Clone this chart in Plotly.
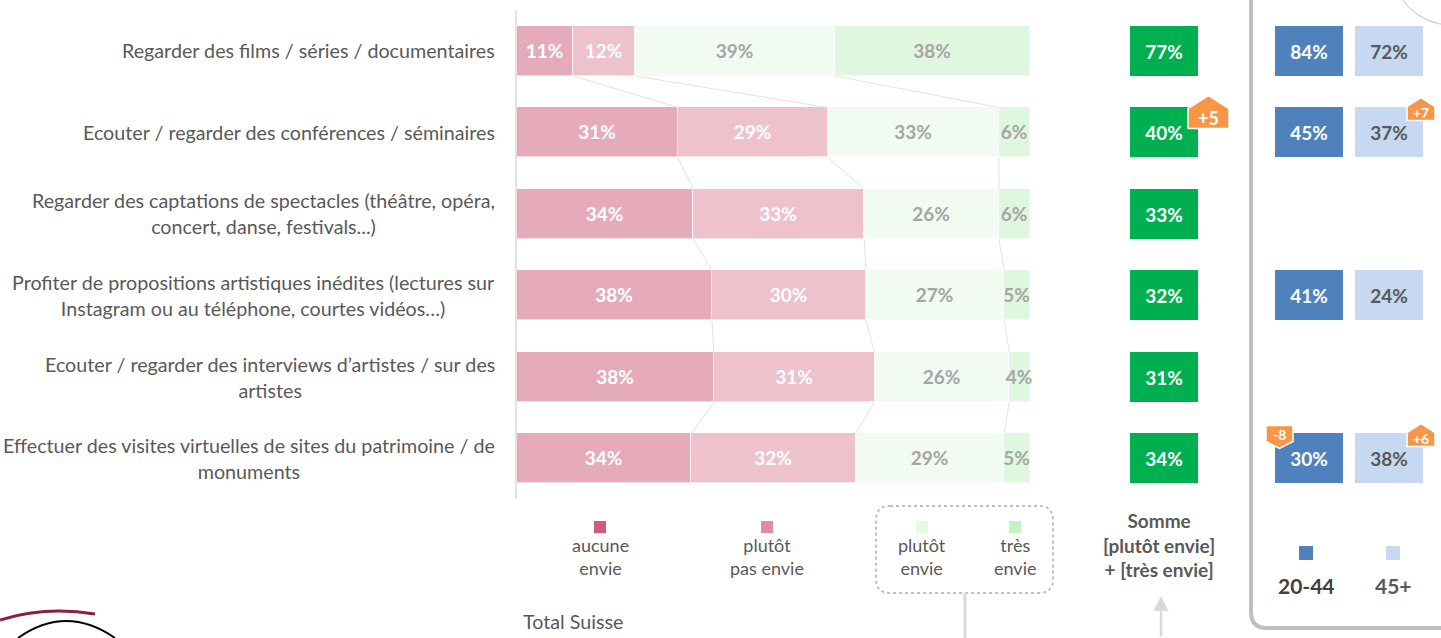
import plotly.graph_objects as go
import numpy as np

W, H = 1441, 638

categories = [
    "Regarder des films / séries / documentaires",
    "Ecouter / regarder des conférences / séminaires",
    "Regarder des captations de spectacles (théâtre, opéra,<br>concert, danse, festivals...)",
    "Profiter de propositions artistiques inédites (lectures sur<br>Instagram ou au téléphone, courtes vidéos…)",
    "Ecouter / regarder des interviews d’artistes / sur des<br>artistes",
    "Effectuer des visites virtuelles de sites du patrimoine / de<br>monuments",
]
aucune_envie = [11, 31, 34, 38, 38, 34]
plutot_pas_envie = [12, 29, 33, 30, 31, 32]
plutot_envie = [39, 33, 26, 27, 26, 29]
tres_envie = [38, 6, 6, 5, 4, 5]
somme = [77, 40, 33, 32, 31, 34]
age_20_44 = [84, 45, None, 41, None, 30]
age_45_plus = [72, 37, None, 24, None, 38]
delta_somme = [None, "+5", None, None, None, None]
delta_20_44 = [None, None, None, None, None, "-8"]
delta_45_plus = [None, "+7", None, None, None, "+6"]
series_labels = ["aucune<br>envie", "plutôt<br>pas envie", "plutôt<br>envie", "très<br>envie"]
age_labels = ["20-44", "45+"]

FONT = "Lato"
GREY_TXT = "#595959"
FS = 19.7

def px(x):
    return x / W

def py(y):
    return 1 - y / H

ROW0, STEP = 51.0, 81.5
BAR_W = 0.613
n = len(categories)
rows = list(range(n))

series = [aucune_envie, plutot_pas_envie, plutot_envie, tres_envie]
bar_colors = ["#E5ABBB", "#EDC2CD", "#F1FBF1", "#DFF7DF"]
legend_colors = ["#D05A7A", "#DE8CA0", "#E3FAE3", "#C3F3C3"]
text_colors = ["white", "white", "#A6A6A6", "#A6A6A6"]

vals = np.array(series, dtype=float)            # 4 x n
norm = vals / vals.sum(axis=0) * 100
cum = np.cumsum(norm, axis=0)

fig = go.Figure()

for k in range(4):
    fig.add_trace(go.Bar(
        y=rows, x=norm[k], orientation="h", width=BAR_W,
        marker=dict(color=bar_colors[k], line=dict(color="rgba(255,255,255,0.6)", width=1)),
        text=[f"{v}%" for v in series[k]], textposition="inside",
        insidetextanchor="middle", constraintext="none", textangle=0,
        textfont=dict(family=FONT, size=19, color=text_colors[k], weight="bold"),
        hoverinfo="skip", showlegend=False, xaxis="x", yaxis="y",
        cliponaxis=False,
    ))

# connectors between segment boundaries
lx, ly = [], []
for i in range(n - 1):
    for k in range(3):
        lx += [cum[k][i], cum[k][i + 1], None]
        ly += [i + BAR_W / 2, i + 1 - BAR_W / 2, None]
fig.add_trace(go.Scatter(x=lx, y=ly, mode="lines", line=dict(color="#E3E3E3", width=1),
                         hoverinfo="skip", showlegend=False, xaxis="x", yaxis="y"))

# value boxes
def box_trace(values, axis, color, tcolor):
    return go.Bar(
        y=rows, x=[1 if v is not None else None for v in values], orientation="h", width=BAR_W,
        marker=dict(color=color, line=dict(width=0)),
        text=[f"{v}%" if v is not None else "" for v in values], textposition="inside",
        insidetextanchor="middle", constraintext="none", textangle=0,
        textfont=dict(family=FONT, size=19, color=tcolor, weight="bold"),
        hoverinfo="skip", showlegend=False, xaxis=axis, yaxis="y",
    )

fig.add_trace(box_trace(somme, "x2", "#00B050", "white"))
fig.add_trace(box_trace(age_20_44, "x3", "#4F81BD", "white"))
fig.add_trace(box_trace(age_45_plus, "x4", "#C6D9F0", GREY_TXT))

shapes = []
annotations = []

def note(x, y, text, size=FS, color=GREY_TXT, xanchor="center", yanchor="middle", bold=False):
    annotations.append(dict(x=px(x), y=py(y), xref="paper", yref="paper",
                            text=f"<b>{text}</b>" if bold else text, showarrow=False,
                            xanchor=xanchor, yanchor=yanchor, align="center",
                            font=dict(family=FONT, size=size, color=color)))

# category labels
for i, c in enumerate(categories):
    annotations.append(dict(x=px(497), xref="paper", y=i, yref="y", text=c, showarrow=False,
                            xanchor="right", yanchor="middle", align="center",
                            font=dict(family=FONT, size=FS, color=GREY_TXT)))

# panel frame (rounded) and decorative arc
shapes.append(dict(type="path", xref="paper", yref="paper",
                   path=f"M {px(1251)} {py(-10)} L {px(1251)} {py(612)} Q {px(1251)} {py(628)} {px(1267)} {py(628)} L {px(1460)} {py(628)}",
                   line=dict(color="#BFBFBF", width=4)))
shapes.append(dict(type="circle", xref="paper", yref="paper",
                   x0=px(1451 - 59), x1=px(1451 + 59), y0=py(-34 + 59), y1=py(-34 - 59),
                   line=dict(color="#BFBFBF", width=1)))

# badges
def badge(cx_left, cx_right, y_top, y_sh, y_bot, up, txt, size):
    xm = (cx_left + cx_right) / 2
    if up:
        path = (f"M {px(cx_left)} {py(y_bot)} L {px(cx_left)} {py(y_sh)} L {px(xm)} {py(y_top)} "
                f"L {px(cx_right)} {py(y_sh)} L {px(cx_right)} {py(y_bot)} Z")
        ty = (y_sh + y_bot) / 2 - 1
    else:
        path = (f"M {px(cx_left)} {py(y_top)} L {px(cx_right)} {py(y_top)} L {px(cx_right)} {py(y_sh)} "
                f"L {px(xm)} {py(y_bot)} L {px(cx_left)} {py(y_sh)} Z")
        ty = (y_top + y_sh) / 2 + 1
    shapes.append(dict(type="path", xref="paper", yref="paper", path=path,
                       fillcolor="#F79646", line=dict(color="white", width=1.5)))
    note(xm, ty, txt, size=size, color="white", bold=True)

for i, d in enumerate(delta_somme):
    if d:
        yc = ROW0 + STEP * i
        badge(1188, 1229, yc - 37, yc - 24, yc - 4, not d.startswith("-"), d, 18)
for i, d in enumerate(delta_45_plus):
    if d:
        yc = ROW0 + STEP * i
        badge(1407, 1435, yc - 35, yc - 26, yc - 12, not d.startswith("-"), d, 14)
for i, d in enumerate(delta_20_44):
    if d:
        yc = ROW0 + STEP * i
        badge(1266, 1293, yc - 33, yc - 17, yc - 10, not d.startswith("-"), d, 14)

# legend for stacked bars
leg_x = [600, 767, 922, 1015]
for k in range(4):
    shapes.append(dict(type="rect", xref="paper", yref="paper",
                       x0=px(leg_x[k] - 6), x1=px(leg_x[k] + 6), y0=py(533), y1=py(521),
                       fillcolor=legend_colors[k], line=dict(width=0)))
    note(leg_x[k], 556, series_labels[k], size=18)

# dotted box around green legend
r = 14
x0, x1, y0, y1 = 876, 1053, 506, 593
shapes.append(dict(type="path", xref="paper", yref="paper",
                   path=(f"M {px(x0 + r)} {py(y0)} L {px(x1 - r)} {py(y0)} Q {px(x1)} {py(y0)} {px(x1)} {py(y0 + r)} "
                         f"L {px(x1)} {py(y1 - r)} Q {px(x1)} {py(y1)} {px(x1 - r)} {py(y1)} "
                         f"L {px(x0 + r)} {py(y1)} Q {px(x0)} {py(y1)} {px(x0)} {py(y1 - r)} "
                         f"L {px(x0)} {py(y0 + r)} Q {px(x0)} {py(y0)} {px(x0 + r)} {py(y0)} Z"),
                   line=dict(color="#BFBFBF", width=2, dash="dot")))
shapes.append(dict(type="line", xref="paper", yref="paper", x0=px(965), x1=px(965), y0=py(593), y1=py(645),
                   line=dict(color="#D9D9D9", width=3)))

# Somme label and arrow
annotations.append(dict(x=px(1159), y=py(545), xref="paper", yref="paper",
                        text="<b>Somme<br>[plutôt envie]<br>+ [très envie]</b>", showarrow=False,
                        xanchor="center", yanchor="middle", align="center",
                        font=dict(family=FONT, size=19, color=GREY_TXT)))
annotations.append(dict(x=px(1161), y=py(596), xref="paper", yref="paper", ax=0, ay=50,
                        axref="pixel", ayref="pixel", text="", showarrow=True, arrowhead=2,
                        arrowsize=1.2, arrowwidth=2.5, arrowcolor="#D9D9D9"))

# age legend
age_x = [1306, 1393]
age_cols = ["#4F81BD", "#C6D9F0"]
for k in range(2):
    shapes.append(dict(type="rect", xref="paper", yref="paper",
                       x0=px(age_x[k] - 7), x1=px(age_x[k] + 7), y0=py(560), y1=py(546),
                       fillcolor=age_cols[k], line=dict(width=0)))
    note(age_x[k], 585, age_labels[k], size=21, color="#404040" if k == 0 else GREY_TXT, bold=True)

note(521, 621, "Total Suisse", xanchor="left")

# logo fragment
shapes.append(dict(type="path", xref="paper", yref="paper",
                   path=f"M {px(0)} {py(620)} Q {px(45)} {py(606)} {px(95)} {py(614)}",
                   line=dict(color="#8B1F3F", width=3)))
shapes.append(dict(type="path", xref="paper", yref="paper",
                   path=f"M {px(18)} {py(638)} Q {px(66)} {py(604)} {px(115)} {py(638)}",
                   line=dict(color="black", width=2)))

top, bot = ROW0 - STEP / 2, ROW0 + STEP * (n - 0.5)
fig.update_layout(
    width=W, height=H, margin=dict(l=0, r=0, t=0, b=0),
    paper_bgcolor="white", plot_bgcolor="rgba(0,0,0,0)",
    barmode="stack", bargap=0,
    xaxis=dict(domain=[px(517), px(1030)], range=[0, 100], visible=False, fixedrange=True),
    xaxis2=dict(domain=[px(1130), px(1198)], range=[0, 1], visible=False, anchor="y"),
    xaxis3=dict(domain=[px(1275), px(1343)], range=[0, 1], visible=False, anchor="y"),
    xaxis4=dict(domain=[px(1355), px(1423)], range=[0, 1], visible=False, anchor="y"),
    yaxis=dict(domain=[py(bot), py(top)], range=[n - 0.5, -0.5], showticklabels=False,
               showgrid=False, zeroline=False, showline=True, linecolor="#E3E3E3", linewidth=2,
               ticks=""),
    shapes=shapes, annotations=annotations, showlegend=False,
    font=dict(family=FONT, color=GREY_TXT),
)

fig.write_html("out.html", config={"displayModeBar": False},
               post_script="document.body.style.margin='0';document.body.style.overflow='hidden';")
